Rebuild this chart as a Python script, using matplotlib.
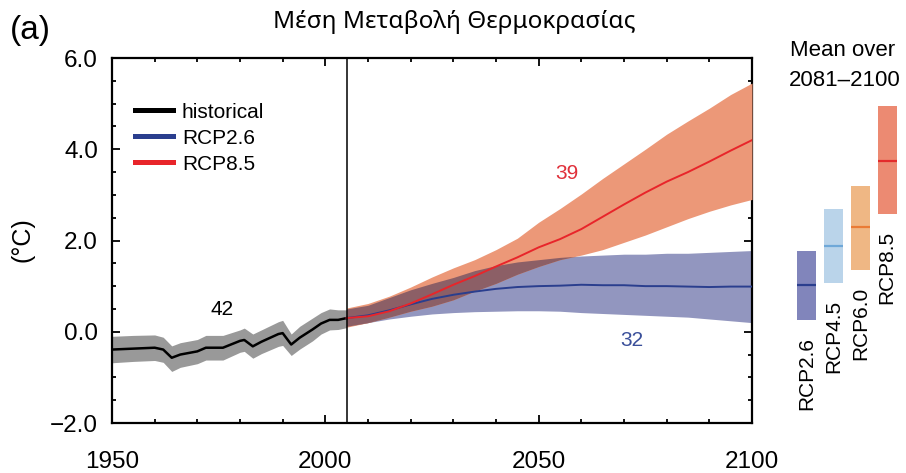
import numpy as np
import matplotlib
matplotlib.use("Agg")
import matplotlib.pyplot as plt
from matplotlib.ticker import MultipleLocator

plt.rcParams['font.family'] = ['Liberation Sans', 'DejaVu Sans']
plt.rcParams['axes.unicode_minus'] = True

# ---------------- data ----------------
hist_years = [1950, 1955, 1960, 1962, 1964, 1966, 1970, 1972, 1976, 1980, 1981,
              1983, 1985, 1989, 1990, 1992, 1994, 1997, 1999, 2001, 2003, 2005]
hist_mean = [-0.39, -0.37, -0.35, -0.39, -0.57, -0.50, -0.43, -0.35, -0.35, -0.20, -0.18,
             -0.32, -0.22, -0.05, -0.03, -0.28, -0.13, 0.05, 0.18, 0.26, 0.26, 0.30]
hist_upper = [-0.10, -0.08, -0.07, -0.12, -0.31, -0.24, -0.17, -0.08, -0.08, 0.04, 0.08,
              -0.05, 0.04, 0.22, 0.25, -0.05, 0.12, 0.30, 0.42, 0.50, 0.48, 0.48]
hist_lower = [-0.68, -0.65, -0.63, -0.67, -0.87, -0.78, -0.70, -0.62, -0.62, -0.45, -0.43,
              -0.58, -0.48, -0.32, -0.30, -0.52, -0.38, -0.20, -0.05, 0.04, 0.05, 0.09]

proj_years = [2005, 2010, 2015, 2020, 2025, 2030, 2035, 2040, 2045, 2050,
              2055, 2060, 2065, 2070, 2075, 2080, 2085, 2090, 2095, 2100]
rcp85_mean = [0.30, 0.34, 0.45, 0.62, 0.82, 1.03, 1.22, 1.43, 1.63, 1.85,
              2.03, 2.25, 2.52, 2.79, 3.05, 3.29, 3.50, 3.73, 3.97, 4.20]
rcp85_upper = [0.52, 0.62, 0.78, 0.98, 1.20, 1.40, 1.58, 1.80, 2.05, 2.40,
               2.70, 3.02, 3.36, 3.68, 4.00, 4.33, 4.62, 4.90, 5.20, 5.45]
rcp85_lower = [0.10, 0.20, 0.32, 0.45, 0.56, 0.70, 0.89, 1.06, 1.26, 1.43,
               1.58, 1.68, 1.80, 1.96, 2.12, 2.30, 2.48, 2.64, 2.78, 2.90]
rcp26_mean = [0.30, 0.36, 0.47, 0.60, 0.72, 0.81, 0.88, 0.94, 0.98, 1.00,
              1.01, 1.03, 1.02, 1.02, 1.00, 1.00, 0.99, 0.98, 0.99, 0.99]
rcp26_upper = [0.50, 0.58, 0.75, 0.92, 1.06, 1.19, 1.34, 1.45, 1.53, 1.58,
               1.63, 1.66, 1.68, 1.70, 1.70, 1.72, 1.72, 1.74, 1.76, 1.78]
rcp26_lower = [0.12, 0.20, 0.28, 0.34, 0.39, 0.42, 0.44, 0.45, 0.46, 0.46,
               0.45, 0.42, 0.40, 0.38, 0.36, 0.34, 0.32, 0.28, 0.24, 0.20]

model_counts = {"historical": 42, "RCP8.5": 39, "RCP2.6": 32}

bar_names = ["RCP2.6", "RCP4.5", "RCP6.0", "RCP8.5"]
bar_low = [0.26, 1.07, 1.36, 2.57]
bar_high = [1.76, 2.69, 3.19, 4.94]
bar_mean = [1.02, 1.87, 2.29, 3.75]

# ---------------- styles ----------------
fill_colors = ["#8185bb", "#bad4ea", "#efb784", "#ec8a72"]
line_colors = ["#2a3e8e", "#6fa8d8", "#ea7b35", "#e32b2c"]

W, H = 906, 473
fig = plt.figure(figsize=(W / 100, H / 100), dpi=100)

def fx(px):
    return px / W

def fy(py):
    return 1 - py / H

ax = fig.add_axes([fx(112), fy(423), fx(752) - fx(112), fy(58) - fy(423)])

hy = np.array(hist_years)
py_ = np.array(proj_years)
r85u, r85l = np.array(rcp85_upper), np.array(rcp85_lower)
r26u, r26l = np.array(rcp26_upper), np.array(rcp26_lower)

ax.fill_between(hy, hist_lower, hist_upper, color="#999999", lw=0, zorder=2)
ax.fill_between(py_, r26l, r26u, color="#9296bf", lw=0, zorder=2)
ax.fill_between(py_, r85l, r85u, color="#ec9878", lw=0, zorder=3)
ov_lo = np.maximum(r26l, r85l)
ov_hi = np.minimum(r26u, r85u)
ax.fill_between(py_, ov_lo, ov_hi, where=ov_hi > ov_lo, interpolate=True,
                color="#8c5f66", lw=0, zorder=4)

lh, = ax.plot(hy, hist_mean, color="black", lw=1.8, zorder=6)
l26, = ax.plot(py_, rcp26_mean, color="#2a3e8e", lw=1.4, zorder=6)
l85, = ax.plot(py_, rcp85_mean, color="#e8252a", lw=1.4, zorder=7)

ax.axvline(2005, color="black", lw=1.1, zorder=8)

ax.set_xlim(1950, 2100)
ax.set_ylim(-2.0, 6.0)
ax.xaxis.set_major_locator(MultipleLocator(50))
ax.xaxis.set_minor_locator(MultipleLocator(10))
ax.yaxis.set_major_locator(MultipleLocator(2))
ax.yaxis.set_minor_locator(MultipleLocator(0.5))
ax.yaxis.set_major_formatter(plt.FuncFormatter(lambda v, p: f"{v:.1f}".replace("-", "\u2212")))
ax.tick_params(which="both", direction="in", top=True, right=True, width=1.3,
               labelsize=17.5, colors="black")
ax.tick_params(which="major", length=6)
ax.tick_params(which="minor", length=3)
ax.tick_params(axis="x", which="major", pad=20)
ax.tick_params(axis="y", which="major", pad=10)
for s in ax.spines.values():
    s.set_linewidth(1.6)

ax.set_ylabel("(°C)", fontsize=18, labelpad=14)
ax.yaxis.set_label_coords(fx(35 - 112) / (fx(752) - fx(112)), (423 - 240) / 365)

leg = ax.legend([lh, l26, l85], ["historical", "RCP2.6", "RCP8.5"],
                loc="upper left", bbox_to_anchor=(0.036, 0.878), frameon=False,
                fontsize=15, handlelength=1.8, handletextpad=0.45,
                labelspacing=0.34, borderpad=0, borderaxespad=0)
for h in leg.get_lines():
    h.set_linewidth(3.6)

ax.text(1975.8, 0.48, str(model_counts["historical"]), fontsize=15, color="black",
        ha="center", va="center")
ax.text(2056.6, 3.46, str(model_counts["RCP8.5"]), fontsize=15, color="#e0303a",
        ha="center", va="center")
ax.text(2071.8, -0.20, str(model_counts["RCP2.6"]), fontsize=15, color="#3a4f9a",
        ha="center", va="center")

# ---------------- right-hand bars ----------------
pitch = 26.8
bx0 = 780
ax2 = fig.add_axes([fx(bx0), fy(423), fx(906) - fx(bx0), fy(58) - fy(423)])
ax2.set_ylim(-2.0, 6.0)
ax2.set_xlim(-1, -1 + (906 - bx0) / pitch)
ax2.axis("off")
xs = np.arange(len(bar_names))
bw = 0.7
lows = np.array(bar_low)
highs = np.array(bar_high)
ax2.bar(xs, highs - lows, bottom=lows, width=bw, color=fill_colors, lw=0)
for i in range(len(bar_names)):
    ax2.hlines(bar_mean[i], xs[i] - bw / 2, xs[i] + bw / 2, color=line_colors[i], lw=1.6)
    ax2.annotate(bar_names[i], (xs[i], bar_low[i]), xytext=(0, -12),
                 textcoords="offset points", rotation=90, ha="center", va="top",
                 fontsize=15)

fig.text(fx(843), fy(51), "Mean over", fontsize=16, ha="center", va="center")
fig.text(fx(845), fy(81), "2081\u20132100", fontsize=16, ha="center", va="center")

fig.text(fx(454), fy(22), "Μέση Μεταβολή Θερμοκρασίας", fontsize=17.5,
         family=["Noto Sans", "DejaVu Sans"], ha="center", va="center")
fig.text(fx(10), fy(30), "(a)", fontsize=24, ha="left", va="center")

fig.savefig("out.png", dpi=100)
